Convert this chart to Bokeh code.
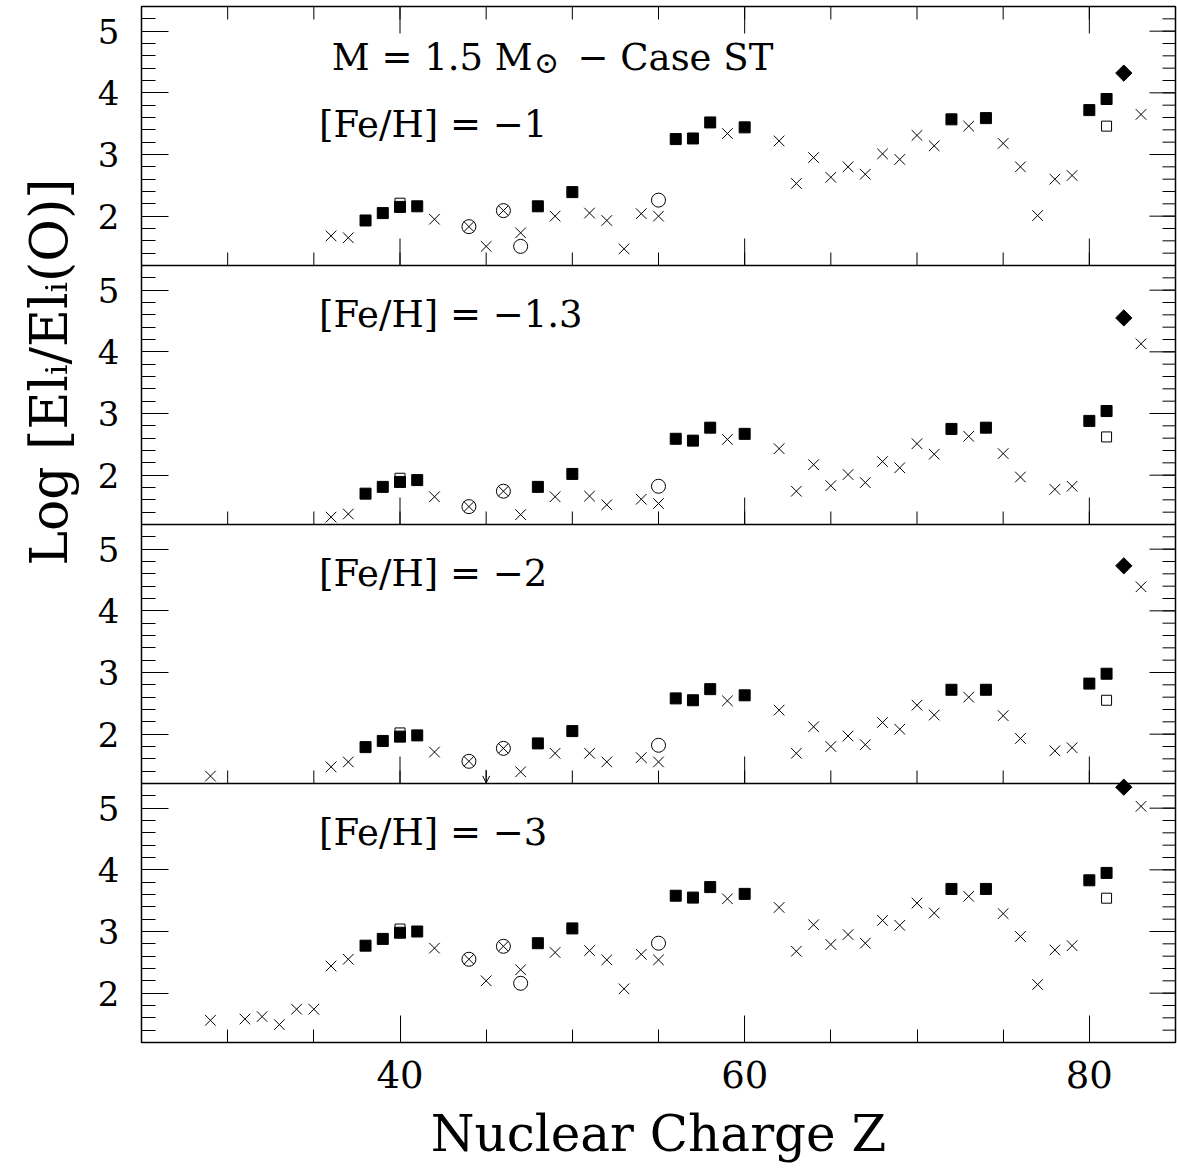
from math import pi
from bokeh.plotting import figure
from bokeh.models import Range1d, FixedTicker, Label, Arrow, OpenHead, Span, Title
from bokeh.embed import file_html
from bokeh.resources import INLINE

FONT = "DejaVu Serif"
FW, PH = 1034, 259          # frame width, height of one panel (px)
XMIN, XMAX = 25, 85
YMIN, YMAX = 1.2, 5.4
NP = 4
SPAN = YMAX - YMIN

# ---------------- axis ticks ----------------
x_major_ticks = [40, 60, 80]
x_minor_ticks = [25, 30, 35, 40, 45, 50, 55, 60, 65, 70, 75, 80, 85]
y_major_ticks = [2, 3, 4, 5]
y_minor_ticks = [1.2, 1.4, 1.6, 1.8, 2.0, 2.2, 2.4, 2.6, 2.8, 3.0, 3.2, 3.4, 3.6,
                 3.8, 4.0, 4.2, 4.4, 4.6, 4.8, 5.0, 5.2, 5.4]

# ---------------- panel labels ----------------
panel_labels = ["[Fe/H] = −1", "[Fe/H] = −1.3", "[Fe/H] = −2", "[Fe/H] = −3"]

# ---------------- [Fe/H] = -1 ----------------
p1_cross_z = [36, 37, 42, 45, 47, 49, 51, 52, 53, 54, 55, 59, 62, 63, 64, 65, 66, 67, 68, 69, 70, 71, 73, 75, 76, 77, 78, 79, 83]
p1_cross_v = [1.68, 1.65, 1.95, 1.51, 1.73, 2.00, 2.05, 1.93, 1.47, 2.04, 2.00, 3.34, 3.22, 2.53, 2.95, 2.63, 2.80, 2.68, 3.01, 2.92, 3.31, 3.14, 3.46, 3.18, 2.80, 2.01, 2.60, 2.66, 3.65]
p1_sq_z = [38, 39, 40, 41, 48, 50, 56, 57, 58, 60, 72, 74, 80, 81]
p1_sq_v = [1.93, 2.05, 2.15, 2.16, 2.16, 2.39, 3.25, 3.26, 3.52, 3.44, 3.57, 3.59, 3.72, 3.90]
p1_osq_z = [40, 81]
p1_osq_v = [2.21, 3.46]
p1_circ_z = [47, 55]
p1_circ_v = [1.51, 2.26]
p1_cx_z = [44, 46]
p1_cx_v = [1.83, 2.09]
p1_dia_z = [82]
p1_dia_v = [4.32]

# ---------------- [Fe/H] = -1.3 ----------------
p2_cross_z = [36, 37, 42, 47, 49, 51, 52, 54, 55, 59, 62, 63, 64, 65, 66, 67, 68, 69, 70, 71, 73, 75, 76, 78, 79, 83]
p2_cross_v = [1.32, 1.37, 1.65, 1.36, 1.65, 1.66, 1.52, 1.61, 1.54, 2.58, 2.43, 1.74, 2.17, 1.83, 2.01, 1.88, 2.22, 2.12, 2.51, 2.34, 2.63, 2.35, 1.97, 1.77, 1.82, 4.13]
p2_sq_z = [38, 39, 40, 41, 48, 50, 56, 57, 58, 60, 72, 74, 80, 81]
p2_sq_v = [1.70, 1.81, 1.89, 1.92, 1.81, 2.02, 2.59, 2.56, 2.77, 2.67, 2.75, 2.77, 2.88, 3.04]
p2_osq_z = [40, 81]
p2_osq_v = [1.95, 2.62]
p2_circ_z = [55]
p2_circ_v = [1.82]
p2_cx_z = [44, 46]
p2_cx_v = [1.49, 1.74]
p2_dia_z = [82]
p2_dia_v = [4.55]

# ---------------- [Fe/H] = -2 ----------------
p3_cross_z = [29, 36, 37, 42, 47, 49, 51, 52, 54, 55, 59, 62, 63, 64, 65, 66, 67, 68, 69, 70, 71, 73, 75, 76, 78, 79, 83]
p3_cross_v = [1.32, 1.47, 1.55, 1.71, 1.39, 1.69, 1.69, 1.55, 1.62, 1.55, 2.54, 2.39, 1.69, 2.12, 1.80, 1.97, 1.83, 2.19, 2.08, 2.47, 2.31, 2.60, 2.30, 1.93, 1.73, 1.78, 4.39]
p3_sq_z = [38, 39, 40, 41, 48, 50, 56, 57, 58, 60, 72, 74, 80, 81]
p3_sq_v = [1.79, 1.89, 1.96, 1.98, 1.85, 2.05, 2.58, 2.55, 2.73, 2.63, 2.72, 2.72, 2.82, 2.98]
p3_osq_z = [40, 81]
p3_osq_v = [2.02, 2.55]
p3_circ_z = [55]
p3_circ_v = [1.82]
p3_cx_z = [44, 46]
p3_cx_v = [1.56, 1.77]
p3_dia_z = [82]
p3_dia_v = [4.73]
p3_limit_z = [45]
p3_limit_v = [1.42]

# ---------------- [Fe/H] = -3 ----------------
p4_cross_z = [29, 31, 32, 33, 34, 35, 36, 37, 42, 45, 47, 49, 51, 52, 53, 54, 55, 59, 62, 63, 64, 65, 66, 67, 68, 69, 70, 71, 73, 75, 76, 77, 78, 79, 83]
p4_cross_v = [1.56, 1.58, 1.62, 1.49, 1.74, 1.74, 2.44, 2.55, 2.73, 2.20, 2.38, 2.66, 2.69, 2.54, 2.07, 2.63, 2.54, 3.53, 3.39, 2.68, 3.11, 2.79, 2.95, 2.81, 3.18, 3.10, 3.46, 3.30, 3.57, 3.29, 2.92, 2.14, 2.70, 2.77, 5.03]
p4_sq_z = [38, 39, 40, 41, 48, 50, 56, 57, 58, 60, 72, 74, 80, 81]
p4_sq_v = [2.77, 2.88, 2.98, 3.00, 2.81, 3.05, 3.58, 3.55, 3.72, 3.61, 3.69, 3.69, 3.83, 3.95]
p4_osq_z = [40, 81]
p4_osq_v = [3.04, 3.54]
p4_circ_z = [47, 55]
p4_circ_v = [2.16, 2.81]
p4_cx_z = [44, 46]
p4_cx_v = [2.55, 2.76]
p4_dia_z = [82]
p4_dia_v = [5.34]

panels_data = [
    dict(cross=(p1_cross_z, p1_cross_v), sq=(p1_sq_z, p1_sq_v), osq=(p1_osq_z, p1_osq_v),
         circ=(p1_circ_z, p1_circ_v), cx=(p1_cx_z, p1_cx_v), dia=(p1_dia_z, p1_dia_v), limit=None),
    dict(cross=(p2_cross_z, p2_cross_v), sq=(p2_sq_z, p2_sq_v), osq=(p2_osq_z, p2_osq_v),
         circ=(p2_circ_z, p2_circ_v), cx=(p2_cx_z, p2_cx_v), dia=(p2_dia_z, p2_dia_v), limit=None),
    dict(cross=(p3_cross_z, p3_cross_v), sq=(p3_sq_z, p3_sq_v), osq=(p3_osq_z, p3_osq_v),
         circ=(p3_circ_z, p3_circ_v), cx=(p3_cx_z, p3_cx_v), dia=(p3_dia_z, p3_dia_v),
         limit=(p3_limit_z, p3_limit_v)),
    dict(cross=(p4_cross_z, p4_cross_v), sq=(p4_sq_z, p4_sq_v), osq=(p4_osq_z, p4_osq_v),
         circ=(p4_circ_z, p4_circ_v), cx=(p4_cx_z, p4_cx_v), dia=(p4_dia_z, p4_dia_v), limit=None),
]

# panel k (0 = top) occupies the stacked coordinate band [SPAN*(NP-1-k), SPAN*(NP-k)]
def offset(k):
    return SPAN * (NP - 1 - k)

def stacked(v, k):
    return round(v - YMIN + offset(k), 4)

TOTAL = SPAN * NP

p = figure(frame_width=FW, frame_height=PH * NP,
           x_range=Range1d(XMIN, XMAX), y_range=Range1d(0, TOTAL),
           output_backend="svg", toolbar_location=None,
           min_border_left=140, min_border_right=2, min_border_top=6, min_border_bottom=0)
p.grid.visible = False
p.outline_line_color = "black"
p.outline_line_width = 1.5
p.background_fill_color = "white"
p.border_fill_color = "white"

# one data range per panel: values YMIN..YMAX land in that panel's band
for k in range(NP):
    p.extra_y_ranges[f"p{k}"] = Range1d(YMIN - offset(k), YMIN - offset(k) + TOTAL)


def style_ticks(ax, major_in, minor_in):
    ax.major_tick_in = major_in
    ax.major_tick_out = 0
    ax.minor_tick_in = minor_in
    ax.minor_tick_out = 0
    ax.axis_line_color = None
    ax.major_tick_line_color = "black"
    ax.minor_tick_line_color = "black"
    ax.major_tick_line_width = 1
    ax.minor_tick_line_width = 1


# bottom x axis
xa = p.xaxis[0]
xa.ticker = FixedTicker(ticks=x_major_ticks, minor_ticks=x_minor_ticks)
style_ticks(xa, 27, 13)
xa.major_label_text_font = FONT
xa.major_label_text_font_size = "37px"
xa.major_label_text_color = "black"
xa.major_label_standoff = 18
xa.axis_label = "Nuclear Charge Z"
xa.axis_label_text_font = FONT
xa.axis_label_text_font_size = "50px"
xa.axis_label_text_font_style = "normal"
xa.axis_label_text_color = "black"
xa.axis_label_standoff = 14

# left y axis: ticks of all four panels, labelled with the panel values
y_major_stacked = [stacked(t, k) for k in range(NP) for t in y_major_ticks]
y_minor_stacked = sorted(set(stacked(t, k) for k in range(NP) for t in y_minor_ticks))
ya = p.yaxis[0]
ya.ticker = FixedTicker(ticks=y_major_stacked, minor_ticks=y_minor_stacked)
ya.major_label_overrides = {stacked(t, k): str(t) for k in range(NP) for t in y_major_ticks}
style_ticks(ya, 27, 14)
ya.major_label_text_font = FONT
ya.major_label_text_font_size = "34px"
ya.major_label_text_color = "black"
ya.major_label_standoff = 22
ya.major_label_orientation = "horizontal"

# y title in the left border, nearer the top as in the original
p.add_layout(Title(text="Log [Elᵢ/Elᵢ(O)]", align="right", offset=172,
                   text_font=FONT, text_font_size="52px", text_font_style="normal",
                   text_color="black", standoff=32), "left")


def edge_ticks(xs, ys, length, angle):
    p.ray(x=xs, y=ys, length=length, angle=angle, length_units="screen",
          line_color="black", line_width=1)


# right edge inward ticks
edge_ticks([XMAX] * len(y_minor_stacked), y_minor_stacked, 13, pi)
edge_ticks([XMAX] * len(y_major_stacked), y_major_stacked, 26, pi)
# top edge of the upper panel
edge_ticks(x_minor_ticks, [TOTAL] * len(x_minor_ticks), 13, -pi / 2)
edge_ticks(x_major_ticks, [TOTAL] * len(x_major_ticks), 27, -pi / 2)

# panel separators with the bottom ticks of the upper panels
for k in range(NP - 1):
    base = offset(k)
    p.add_layout(Span(location=base, dimension="width", line_color="black", line_width=1.5))
    edge_ticks(x_minor_ticks, [base] * len(x_minor_ticks), 13, pi / 2)
    edge_ticks(x_major_ticks, [base] * len(x_major_ticks), 27, pi / 2)

# data markers
for k, d in enumerate(panels_data):
    rn = f"p{k}"
    z, v = d["cross"]
    p.scatter(z, v, y_range_name=rn, marker="x", size=15, line_color="black", line_width=1)
    z, v = d["osq"]
    p.scatter(z, v, y_range_name=rn, marker="square", size=10, fill_color=None,
              line_color="black", line_width=1)
    z, v = d["sq"]
    p.scatter(z, v, y_range_name=rn, marker="square", size=11, fill_color="black",
              line_color="black", line_width=1)
    z, v = d["circ"]
    p.scatter(z, v, y_range_name=rn, marker="circle", size=14, fill_color=None,
              line_color="black", line_width=1)
    z, v = d["cx"]
    p.scatter(z, v, y_range_name=rn, marker="circle_x", size=14, fill_color=None,
              line_color="black", line_width=1)
    z, v = d["dia"]
    p.scatter(z, v, y_range_name=rn, marker="square", angle=pi / 4, size=11.5,
              fill_color="black", line_color="black", line_width=1)
    if d["limit"] is not None:
        lz, lv = d["limit"]
        for zz, vv in zip(lz, lv):
            p.add_layout(Arrow(end=OpenHead(size=7, line_width=1, line_color="black"),
                               x_start=zz, y_start=vv, x_end=zz, y_end=YMIN + 0.01,
                               y_range_name=rn, line_width=1, line_color="black"))

    if k == 0:
        p.add_layout(Label(x=47.7, y=4.58, y_range_name=rn, text="M = 1.5 M", text_align="right",
                           text_baseline="alphabetic", text_font=FONT,
                           text_font_size="37px", text_color="black"))
        p.add_layout(Label(x=48.5, y=4.50, y_range_name=rn, text="⊙", text_align="center",
                           text_baseline="middle", text_font=FONT,
                           text_font_size="30px", text_color="black"))
        p.add_layout(Label(x=50.3, y=4.58, y_range_name=rn, text="− Case ST", text_align="left",
                           text_baseline="alphabetic", text_font=FONT,
                           text_font_size="37px", text_color="black"))
        ly = 3.49
    else:
        ly = 4.6
    p.add_layout(Label(x=35.3, y=ly, y_range_name=rn, text=panel_labels[k], text_align="left",
                       text_baseline="alphabetic", text_font=FONT,
                       text_font_size="37px", text_color="black"))

open("out.html", "w").write(file_html(p, INLINE))
